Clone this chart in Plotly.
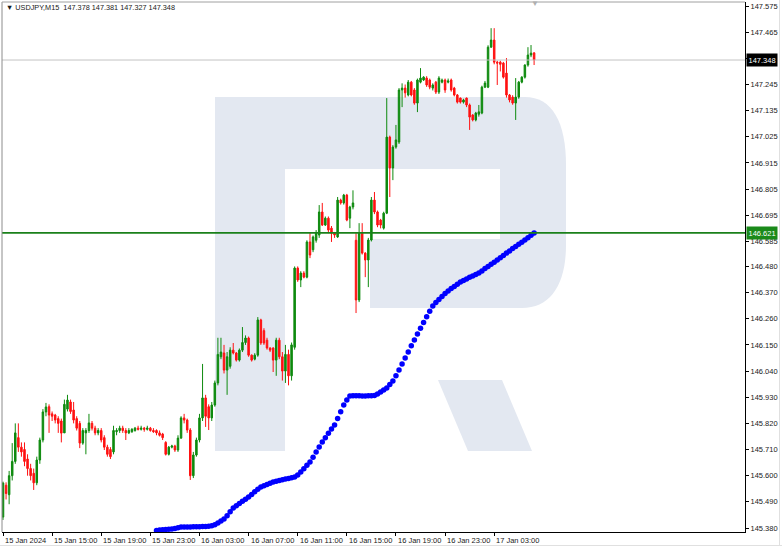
import plotly.graph_objects as go

# ---------------- data ----------------
symbol_title = "▼ USDJPY,M15  147.378 147.381 147.327 147.348"
opens = [145.426,145.560,145.520,145.600,145.660,145.760,145.720,145.710,145.670,145.630,
         145.610,145.570,145.666,145.750,145.868,145.890,145.860,145.855,145.840,145.830,
         145.780,145.880,145.910,145.876,145.840,145.820,145.737,145.780,145.790,145.820,
         145.800,145.780,145.790,145.760,145.720,145.710,145.700,145.785,145.790,145.800,
         145.790,145.780,145.785,145.790,145.800,145.795,145.800,145.795,145.800,145.790,
         145.790,145.780,145.775,145.740,145.690,145.720,145.725,145.708,145.758,145.843,
         145.834,145.792,145.600,145.687,145.750,145.843,145.927,145.890,145.843,145.897,
         145.990,146.100,146.116,146.044,146.060,146.128,146.116,146.086,146.128,146.160,
         146.179,146.107,146.090,146.107,146.255,146.210,146.170,146.137,146.137,146.086,
         146.170,146.100,146.040,146.110,146.020,146.140,146.473,146.423,146.452,146.435,
         146.583,146.550,146.590,146.612,146.709,146.654,146.683,146.641,146.620,146.604,
         146.759,146.747,146.780,146.683,146.730,146.590,146.339,146.620,146.536,146.507,
         146.591,146.759,146.709,146.675,146.641,146.704,147.024,146.894,146.982,147.003,
         147.222,147.230,147.201,147.255,147.222,147.167,147.255,147.264,147.272,147.264,
         147.230,147.255,147.213,147.255,147.264,147.255,147.264,147.230,147.201,147.188,
         147.171,147.188,147.159,147.117,147.096,147.120,147.125,147.234,147.234,147.402,
         147.432,147.339,147.339,147.335,147.293,147.201,147.192,147.167,147.192,147.255,
         147.276,147.327,147.369,147.378]
highs = [145.575,145.572,145.620,145.737,145.820,145.820,145.740,145.740,145.690,145.650,
         145.630,145.680,145.760,145.880,145.906,145.900,145.870,145.860,145.850,145.840,
         145.920,145.940,145.920,145.910,145.850,145.830,145.800,145.800,145.860,145.830,
         145.810,145.800,145.800,145.770,145.730,145.720,145.810,145.800,145.810,145.810,
         145.800,145.800,145.800,145.805,145.810,145.810,145.805,145.810,145.805,145.800,
         145.795,145.790,145.780,145.745,145.725,145.730,145.730,145.770,145.850,145.860,
         145.840,145.800,145.700,145.760,145.860,146.070,145.940,145.900,145.910,146.000,
         146.180,146.180,146.150,146.120,146.140,146.158,146.120,146.135,146.225,146.190,
         146.185,146.110,146.115,146.267,146.260,146.220,146.180,146.140,146.140,146.180,
         146.180,146.120,146.150,146.130,146.160,146.480,146.480,146.460,146.460,146.590,
         146.620,146.610,146.633,146.738,146.747,146.690,146.690,146.650,146.625,146.772,
         146.765,146.785,146.785,146.735,146.800,146.620,146.662,146.662,146.540,146.600,
         146.772,146.793,146.715,146.680,146.710,147.188,147.030,146.990,147.075,147.230,
         147.250,147.245,147.264,147.260,147.230,147.270,147.314,147.280,147.280,147.270,
         147.250,147.260,147.280,147.270,147.270,147.270,147.270,147.235,147.205,147.190,
         147.185,147.190,147.165,147.120,147.130,147.159,147.240,147.260,147.410,147.482,
         147.482,147.345,147.345,147.340,147.356,147.205,147.200,147.272,147.260,147.280,
         147.330,147.402,147.411,147.381]
lows = [145.414,145.500,145.480,145.580,145.650,145.700,145.680,145.640,145.600,145.580,
        145.540,145.560,145.650,145.740,145.850,145.780,145.830,145.820,145.780,145.740,
        145.780,145.870,145.860,145.820,145.790,145.716,145.730,145.690,145.780,145.790,
        145.770,145.770,145.740,145.708,145.680,145.670,145.690,145.770,145.780,145.780,
        145.750,145.775,145.780,145.785,145.790,145.790,145.785,145.790,145.785,145.780,
        145.770,145.765,145.750,145.685,145.685,145.715,145.700,145.700,145.755,145.820,
        145.780,145.582,145.590,145.680,145.740,145.830,145.805,145.792,145.830,145.890,
        145.980,146.090,146.030,145.940,146.050,146.110,146.080,146.080,146.120,146.150,
        146.100,146.080,146.085,146.100,146.150,146.150,146.130,146.120,146.036,146.020,
        146.090,146.000,145.990,145.980,146.000,146.130,146.415,146.393,146.430,146.430,
        146.515,146.540,146.580,146.600,146.650,146.650,146.620,146.583,146.600,146.600,
        146.740,146.740,146.670,146.641,146.720,146.284,146.330,146.530,146.435,146.393,
        146.585,146.700,146.645,146.640,146.635,146.700,146.772,146.843,146.975,146.995,
        147.150,147.190,147.195,147.195,147.160,147.129,147.250,147.260,147.235,147.225,
        147.220,147.205,147.205,147.250,147.210,147.250,147.215,147.195,147.165,147.165,
        147.165,147.150,147.054,147.090,147.090,147.110,147.120,147.230,147.230,147.400,
        147.330,147.243,147.300,147.270,147.190,147.170,147.160,147.096,147.185,147.250,
        147.270,147.320,147.360,147.327]
closes = [145.569,145.525,145.600,145.660,145.780,145.720,145.700,145.660,145.630,145.600,
          145.570,145.666,145.750,145.868,145.889,145.855,145.850,145.834,145.820,145.779,
          145.900,145.918,145.870,145.834,145.800,145.737,145.790,145.790,145.822,145.800,
          145.780,145.790,145.750,145.720,145.690,145.680,145.790,145.790,145.800,145.790,
          145.780,145.790,145.795,145.800,145.795,145.800,145.795,145.800,145.790,145.785,
          145.780,145.770,145.760,145.690,145.720,145.725,145.708,145.758,145.843,145.834,
          145.792,145.600,145.687,145.750,145.843,145.927,145.850,145.843,145.897,145.990,
          146.110,146.120,146.044,146.100,146.128,146.116,146.086,146.128,146.160,146.179,
          146.107,146.086,146.107,146.255,146.158,146.158,146.137,146.128,146.086,146.170,
          146.100,146.040,146.110,146.020,146.150,146.473,146.423,146.452,146.435,146.583,
          146.528,146.604,146.620,146.709,146.654,146.683,146.633,146.620,146.612,146.759,
          146.747,146.780,146.675,146.730,146.747,146.339,146.620,146.536,146.507,146.591,
          146.759,146.709,146.654,146.654,146.704,147.024,146.894,146.982,147.012,147.222,
          147.230,147.210,147.255,147.201,147.167,147.264,147.272,147.276,147.243,147.234,
          147.243,147.213,147.272,147.264,147.222,147.260,147.222,147.201,147.171,147.171,
          147.180,147.159,147.108,147.096,147.125,147.130,147.234,147.251,147.402,147.432,
          147.339,147.335,147.330,147.276,147.201,147.180,147.167,147.192,147.255,147.276,
          147.327,147.369,147.377,147.348]

indicator_start = 50
indicator = [145.370,145.372,145.373,145.374,145.375,145.376,145.378,145.381,145.384,145.384,
             145.384,145.384,145.385,145.385,145.385,145.386,145.386,145.387,145.389,145.394,
             145.401,145.409,145.418,145.432,145.448,145.464,145.474,145.483,145.492,145.501,
             145.510,145.521,145.532,145.543,145.552,145.558,145.563,145.568,145.573,145.577,
             145.580,145.583,145.586,145.588,145.591,145.594,145.603,145.615,145.629,145.644,
             145.658,145.678,145.700,145.721,145.742,145.760,145.778,145.796,145.813,145.840,
             145.869,145.897,145.918,145.935,145.936,145.936,145.936,145.935,145.935,145.936,
             145.936,145.937,145.944,145.952,145.960,145.969,145.983,145.998,146.020,146.044,
             146.070,146.095,146.120,146.146,146.171,146.196,146.220,146.244,146.268,146.291,
             146.314,146.328,146.341,146.354,146.366,146.377,146.387,146.396,146.405,146.414,
             146.421,146.427,146.434,146.440,146.446,146.452,146.461,146.471,146.480,146.489,
             146.498,146.507,146.517,146.526,146.536,146.545,146.555,146.564,146.573,146.582,
             146.591,146.601,146.611,146.621]

bid_price = 147.348
level_price = 146.621

x_tick_labels = ["15 Jan 2024", "15 Jan 15:00", "15 Jan 19:00", "15 Jan 23:00", "16 Jan 03:00",
                 "16 Jan 07:00", "16 Jan 11:00", "16 Jan 15:00", "16 Jan 19:00", "16 Jan 23:00",
                 "17 Jan 03:00"]
bars_per_label = 16
y_tick_labels = ["145.380", "145.490", "145.600", "145.710", "145.820", "145.930", "146.040",
                 "146.150", "146.260", "146.370", "146.480", "146.585", "146.695", "146.805",
                 "146.915", "147.025", "147.135", "147.245", "147.355", "147.465", "147.575"]
hidden_y_labels = ["147.355"]  # covered by the bid price box in the reference

# ---------------- figure ----------------
W, H = 782, 549
ML, MR, MT, MB = 2, 37, 2, 17
PW, PH = W - ML - MR, H - MT - MB


def PX(px):
    return (px - ML) / PW


def PY(py):
    return (H - MB - py) / PH


FONT = "Liberation Sans, Arial, sans-serif"
idx = list(range(len(closes)))

fig = go.Figure()

fig.add_trace(go.Candlestick(
    x=idx, open=opens, high=highs, low=lows, close=closes,
    increasing=dict(line=dict(color="#0e8a0e", width=1), fillcolor="#0e8a0e"),
    decreasing=dict(line=dict(color="#ff1111", width=1), fillcolor="#ff1111"),
    whiskerwidth=0, hoverinfo="skip", showlegend=False,
))

fig.add_trace(go.Scatter(
    x=list(range(indicator_start, indicator_start + len(indicator))), y=indicator,
    mode="markers", marker=dict(color="#0000ff", size=5.5, line=dict(width=0)),
    hoverinfo="skip", showlegend=False,
))

shapes = []
WM = "#e3e8f1"


def rect(x0, y0, x1, y1):
    return dict(type="rect", xref="paper", yref="paper", x0=PX(x0), x1=PX(x1),
                y0=PY(y1), y1=PY(y0), fillcolor=WM, line=dict(width=0), layer="below")


def poly(pts):
    d = "M " + " L ".join(f"{PX(a):.5f},{PY(b):.5f}" for a, b in pts) + " Z"
    return dict(type="path", xref="paper", yref="paper", path=d, fillcolor=WM,
                line=dict(width=0), layer="below")


# watermark "R" logo
shapes.append(rect(215, 97, 285, 451))
shapes.append(rect(284, 97, 502, 169))
shapes.append(rect(370, 239, 502, 308))
bowl_path = "M %f,%f L %f,%f C %f,%f %f,%f %f,%f L %f,%f C %f,%f %f,%f %f,%f L %f,%f Z" % (
    PX(500), PY(97), PX(525), PY(97),
    PX(552), PY(97), PX(566), PY(122), PX(566), PY(165),
    PX(566), PY(245),
    PX(566), PY(285), PX(550), PY(308), PX(522), PY(308),
    PX(500), PY(308))
shapes.append(dict(type="path", xref="paper", yref="paper", path=bowl_path, fillcolor=WM,
                   line=dict(width=0), layer="below"))
shapes.append(poly([(438, 380), (502, 380), (532, 451), (468, 451)]))

# horizontal lines
shapes.append(dict(type="line", xref="paper", yref="y", x0=0, x1=1, y0=bid_price, y1=bid_price,
                   line=dict(color="#c4c4c4", width=1), layer="above"))
shapes.append(dict(type="line", xref="paper", yref="y", x0=0, x1=1, y0=level_price, y1=level_price,
                   line=dict(color="#1a801a", width=1.6), layer="above"))
# frame lines
shapes.append(dict(type="line", xref="paper", yref="paper", x0=0, x1=0, y0=0, y1=1,
                   line=dict(color="#8c8c8c", width=1)))
shapes.append(dict(type="line", xref="paper", yref="paper", x0=0, x1=1, y0=1, y1=1,
                   line=dict(color="#a0a0a0", width=1)))
shapes.append(dict(type="line", xref="paper", yref="paper", x0=PX(0), x1=PX(782), y0=PY(545.5), y1=PY(545.5),
                   line=dict(color="#e0e0e0", width=1)))
shapes.append(dict(type="line", xref="paper", yref="paper", x0=PX(779.5), x1=PX(779.5), y0=PY(0), y1=PY(546),
                   line=dict(color="#e0e0e0", width=1)))

annotations = []
annotations.append(dict(text=symbol_title, xref="paper", yref="paper", x=PX(4), y=PY(8),
                        xanchor="left", yanchor="middle", showarrow=False,
                        font=dict(family=FONT, size=7.3, color="#1a1a1a")))
annotations.append(dict(text="▼", xref="paper", yref="paper", x=PX(535), y=PY(3),
                        xanchor="center", yanchor="middle", showarrow=False,
                        font=dict(family=FONT, size=8, color="#b0b0b0")))
for k, lab in enumerate(x_tick_labels):
    annotations.append(dict(text=lab, xref="x", yref="paper", x=k * bars_per_label, y=PY(540),
                            xanchor="left", yanchor="middle", showarrow=False,
                            font=dict(family=FONT, size=7.5, color="#1a1a1a")))
annotations.append(dict(text=f"{bid_price:.3f}", xref="paper", yref="y", x=1, y=bid_price,
                        xanchor="left", yanchor="middle", xshift=1, showarrow=False,
                        bgcolor="#000000", borderpad=1.5,
                        font=dict(family=FONT, size=7.5, color="#ffffff")))
annotations.append(dict(text=f"{level_price:.3f}", xref="paper", yref="y", x=1, y=level_price,
                        xanchor="left", yanchor="middle", xshift=1, showarrow=False,
                        bgcolor="#1a8a1a", borderpad=1.5,
                        font=dict(family=FONT, size=7.5, color="#ffffff")))

fig.update_layout(
    width=W, height=H,
    margin=dict(l=ML, r=MR, t=MT, b=MB, pad=0),
    paper_bgcolor="#ffffff", plot_bgcolor="#ffffff",
    shapes=shapes, annotations=annotations,
    showlegend=False,
    xaxis=dict(range=[-0.326, 241.7], rangeslider=dict(visible=False), showgrid=False,
               zeroline=False, tickmode="array",
               tickvals=[k * bars_per_label for k in range(len(x_tick_labels))],
               showticklabels=False, ticks="outside", ticklen=3, tickcolor="#000000",
               showline=True, linecolor="#000000", linewidth=1),
    yaxis=dict(side="right", range=[145.3632, 147.592], showgrid=False, zeroline=False,
               tickmode="array", tickvals=[float(v) for v in y_tick_labels],
               ticktext=["" if v in hidden_y_labels else v for v in y_tick_labels],
               ticks="outside", ticklen=3, tickcolor="#000000",
               tickfont=dict(family=FONT, size=7.5, color="#1a1a1a"),
               showline=True, linecolor="#000000", linewidth=1),
)

fig.write_html("out.html", config={"displayModeBar": False},
               post_script="document.body.style.margin='0';document.body.style.overflow='hidden';")
